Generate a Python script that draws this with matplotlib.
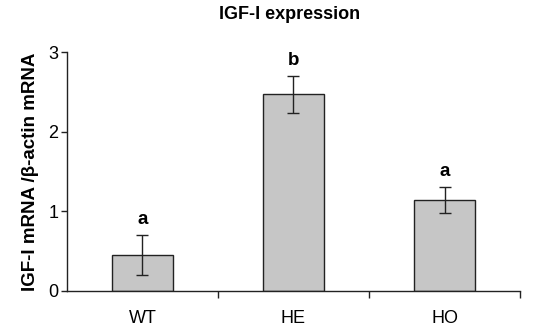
import matplotlib.pyplot as plt
import numpy as np

plt.rcParams['font.family'] = ['Liberation Sans', 'DejaVu Sans']

# Datos
grupos = ['WT', 'HE', 'HO']
medias = [0.45, 2.47, 1.14]
errores = [0.25, 0.23, 0.16]
letras = ['a', 'b', 'a']

fig = plt.figure(figsize=(5.39, 3.28), dpi=100)
ax = fig.add_axes([0.124, 0.113, 0.841, 0.728])

x = np.arange(len(grupos))
ax.bar(x, medias, width=0.4, color='#c6c6c6', edgecolor='#222222', linewidth=1.0,
       yerr=errores, capsize=4, error_kw=dict(ecolor='#222222', elinewidth=1.0, capthick=1.0))

for xi, m, e, l in zip(x, medias, errores, letras):
    ax.text(xi, m + e + 0.09, l, ha='center', va='bottom', fontsize=13.5, fontweight='bold')

ax.set_xlim(-0.5, 2.5)
ax.set_ylim(0, 3)
ax.set_yticks([0, 1, 2, 3])
ax.set_xticks(x)
ax.set_xticklabels(grupos, fontsize=13)
ax.tick_params(axis='x', length=0, pad=14)
ax.set_xticks([0.5, 1.5, 2.5], minor=True)
ax.tick_params(axis='x', which='minor', length=5, width=1, color='#222222')
ax.tick_params(axis='y', labelsize=13, length=4, width=1, color='#222222', pad=2)

for s in ['top', 'right']:
    ax.spines[s].set_visible(False)
for s in ['left', 'bottom']:
    ax.spines[s].set_color('#222222')
    ax.spines[s].set_linewidth(1.0)

ax.set_ylabel('IGF-I mRNA /β-actin mRNA', fontsize=13.5, fontweight='bold', labelpad=7)
fig.text(0.538, 0.955, 'IGF-I expression', ha='center', va='center', fontsize=13, fontweight='bold')

fig.savefig('out.png', dpi=100)
